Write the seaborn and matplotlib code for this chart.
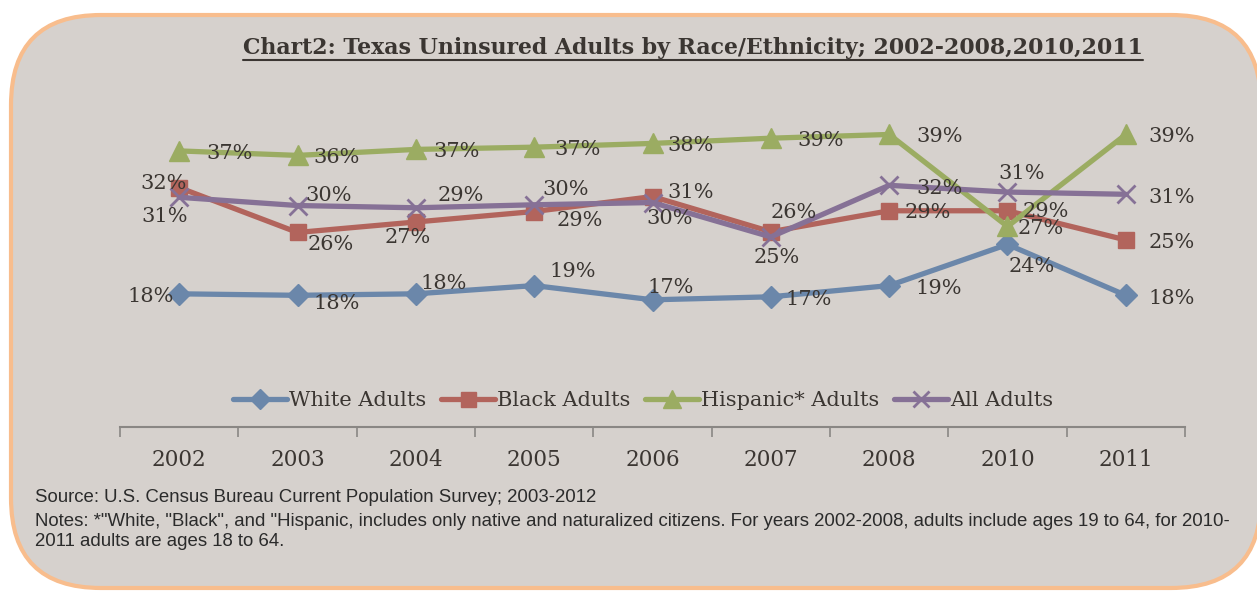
import matplotlib
matplotlib.use("Agg")
import pandas as pd
import matplotlib.pyplot as plt
from matplotlib.patches import FancyBboxPatch
import seaborn as sns

# data (percent uninsured)
years = ["2002", "2003", "2004", "2005", "2006", "2007", "2008", "2010", "2011"]
white = [17.8, 17.6, 17.8, 18.9, 17.0, 17.4, 18.9, 24.4, 17.6]
black = [32.0, 26.0, 27.4, 28.8, 30.8, 26.1, 28.9, 28.9, 25.0]
hispanic = [36.9, 36.3, 37.1, 37.4, 37.9, 38.6, 39.1, 26.8, 39.1]
all_adults = [30.7, 29.6, 29.3, 29.7, 30.0, 25.4, 32.3, 31.4, 31.1]
series_names = ["White Adults", "Black Adults", "Hispanic* Adults", "All Adults"]

# styles
colors = ["#6b87aa", "#b2645c", "#9bac62", "#867196"]
markers = ["D", "s", "^", "x"]
msizes = [11, 12, 14, 13]
# label offsets in pixels (dx right, dy down)
label_offsets = [
    [(-29, 3), (39, 8), (28, -10), (39, -14), (18, -12), (38, 3), (50, 3), (24, 22), (46, 3)],
    [(-16, -4), (33, 12), (-8, 16), (46, 9), (38, -4), (23, -19), (39, 2), (38, 1), (46, 3)],
    [(50, 3), (39, 2), (41, 2), (43, 2), (38, 2), (50, 2), (50, 2), (33, 2), (46, 2)],
    [(-15, 19), (31, -10), (45, -12), (31, -15), (17, 16), (6, 21), (50, 3), (14, -19), (46, 3)],
]

text_col = "#3b3632"

sns.set_theme(style="white")
plt.rcParams["font.family"] = ["DejaVu Serif"]

W, H = 1257, 591
fig = plt.figure(figsize=(W / 100, H / 100), dpi=100)
fig.patch.set_facecolor("white")

# rounded background panel
bg = fig.add_axes([0, 0, 1, 1])
bg.set_xlim(0, W)
bg.set_ylim(H, 0)
bg.axis("off")
panel = FancyBboxPatch((11, 15), 1250, 573, boxstyle="round,pad=0,rounding_size=90",
                       facecolor="#d6d1cd", edgecolor="#f8bd8d", linewidth=3)
bg.add_patch(panel)

# main plot area
ax = fig.add_axes([120 / W, 1 - 427 / H, 1065 / W, 336.7 / H])
ax.set_facecolor("none")
xpos = list(range(len(years)))
all_series = [white, black, hispanic, all_adults]

for name, vals, c, m, ms in zip(series_names, all_series, colors, markers, msizes):
    sns.lineplot(x=xpos, y=vals, ax=ax, color=c, marker=m, markersize=ms,
                 markeredgecolor=c, markeredgewidth=2 if m == "x" else 1,
                 linewidth=3.8, label=name)

for vals, offs in zip(all_series, label_offsets):
    for i, v in enumerate(vals):
        dx, dy = offs[i]
        ax.annotate(f"{round(v)}%", (i, v), xytext=(dx, -dy), textcoords="offset pixels",
                    ha="center", va="center", fontsize=15, color=text_col)

ax.set_xlim(-0.5, len(years) - 0.5)
ax.set_ylim(0, 45)
ax.set_yticks([])
for s in ["left", "right", "top"]:
    ax.spines[s].set_visible(False)
ax.spines["bottom"].set_color("#8a8784")
ax.spines["bottom"].set_linewidth(1.5)
ax.set_xticks([i - 0.5 for i in range(len(years) + 1)])
ax.set_xticklabels([])
ax.set_xticks(xpos, minor=True)
ax.set_xticklabels(years, minor=True, fontsize=15.5, color=text_col)
ax.tick_params(axis="x", which="major", bottom=True, direction="out", length=7, width=1.2,
               color="#8a8784")
ax.tick_params(axis="x", which="minor", bottom=True, length=0, pad=16)
ax.set_xlabel("")

handles, labels = ax.get_legend_handles_labels()
ax.get_legend().remove()
fig.legend(handles, labels, loc="center", bbox_to_anchor=(643 / W, 1 - 401 / H), ncol=4,
           frameon=False, fontsize=15, handlelength=2.6, handletextpad=0.1,
           columnspacing=0.7, markerscale=0.9, labelcolor=text_col)

# title with underline
title = fig.text(693 / W, 1 - 48 / H, "Chart2: Texas Uninsured Adults by Race/Ethnicity; 2002-2008,2010,2011",
                 ha="center", va="center", fontsize=15.8, fontweight="bold", color=text_col)
fig.canvas.draw()
bb = title.get_window_extent()
bg.plot([bb.x0, bb.x1], [H - bb.y0 + 1, H - bb.y0 + 1], color=text_col, linewidth=1.5)

# source notes
notes = [
    "Source: U.S. Census Bureau Current Population Survey; 2003-2012",
    "Notes: *\"White, \"Black\", and \"Hispanic, includes only native and naturalized citizens. For years 2002-2008, adults include ages 19 to 64, for 2010-",
    "2011 adults are ages 18 to 64.",
]
for y, line in zip([497, 521, 541], notes):
    fig.text(35 / W, 1 - y / H, line, ha="left", va="center", fontsize=13.4,
             family=["Liberation Sans"], color="#2b2b2b")

fig.savefig("out.png", dpi=100)
